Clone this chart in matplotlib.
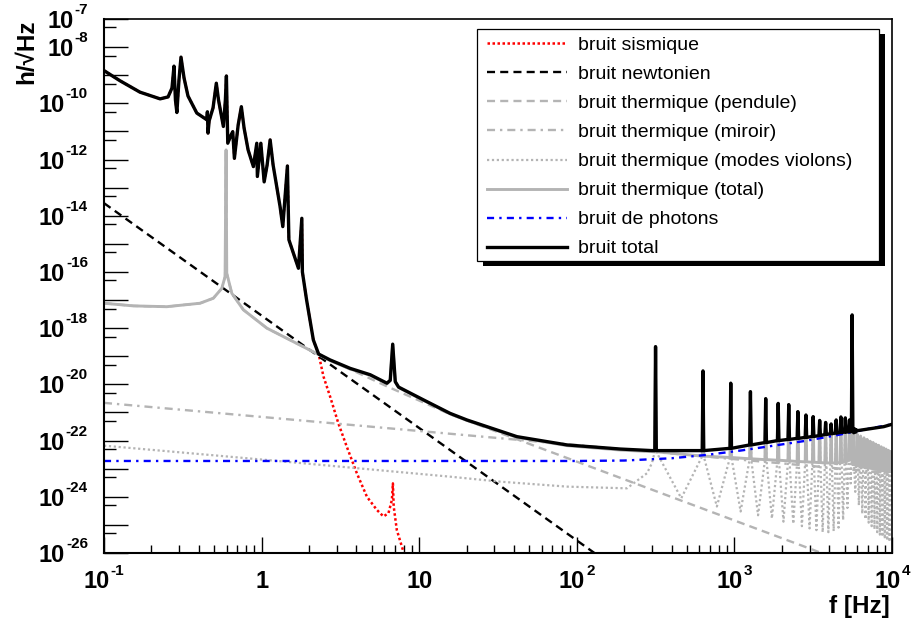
import matplotlib
matplotlib.use("Agg")
import matplotlib.pyplot as plt
import numpy as np
from matplotlib.ticker import FixedLocator, NullFormatter
from matplotlib.patches import Rectangle
from matplotlib.lines import Line2D

plt.rcParams['font.family'] = ['Liberation Sans', 'DejaVu Sans']

# ---- values (f in Hz, h in 1/sqrt(Hz)) ----

# low frequency part of the total noise (seismic dominated, same as seismic curve)
low_f = [0.1, 0.126, 0.169, 0.227, 0.255, 0.270, 0.278, 0.284, 0.290, 0.299,
         0.308, 0.322, 0.341, 0.388, 0.449, 0.453, 0.457, 0.465, 0.492, 0.516,
         0.533, 0.572, 0.589, 0.598, 0.610, 0.640, 0.656, 0.672, 0.710, 0.744,
         0.774, 0.821, 0.887, 0.932, 0.940, 0.989, 1.038, 1.084, 1.133, 1.183,
         1.31, 1.363, 1.458, 1.49, 1.713, 1.80, 1.815, 1.93, 2.13, 2.30]
low_h = [1.46e-9, 6.4e-10, 2.5e-10, 1.44e-10, 1.69e-10, 3.5e-10, 2.1e-9, 1.3e-10, 4.7e-11, 6.8e-10,
         4.4e-9, 8.0e-10, 1.83e-10, 4.5e-11, 2.6e-11, 5.0e-11, 8.7e-12, 2.4e-11, 6.9e-11, 5.2e-10,
         1.3e-10, 1.5e-11, 1.3e-10, 9.4e-10, 3.8e-12, 7.5e-12, 9.8e-12, 1.1e-12, 1.7e-11, 7.6e-11,
         1.33e-11, 2.2e-12, 5.6e-13, 3.8e-12, 2.5e-13, 3.8e-12, 1.6e-13, 6.4e-13, 5.0e-12, 6.4e-13,
         2.1e-14, 4.1e-15, 5.9e-13, 1.4e-15, 1.35e-16, 8.1e-15, 1.0e-16, 1.0e-17, 3.8e-19, 1.2e-19]

# total noise between the seismic wall and the violin modes
mid_f = [2.72, 3.65, 4.89, 6.24, 6.55, 6.79, 7.05, 7.40, 10.65, 15.7, 20.1, 41.7, 86.7, 189, 300]
mid_h = [7.4e-20, 3.7e-20, 2.2e-20, 1.1e-20, 1.4e-20, 2.7e-19, 1.25e-20, 8.0e-21, 2.8e-21,
         9.3e-22, 5.4e-22, 1.38e-22, 7.0e-23, 5.0e-23, 4.4e-23]

# total noise after the 5.6 kHz mirror resonance
tail_f = [5650, 5720, 5800, 5880, 5950, 6012, 8870, 10000]
tail_h = [2.7e-22, 1.9e-22, 2.6e-22, 2.0e-22, 2.4e-22, 2.25e-22, 3.13e-22, 3.8e-22]

# violin modes (and the 5585 Hz mirror mode)
modes = [316, 632, 948, 1264, 1580, 1896, 2212, 2528, 2844, 3160, 3476, 3792, 4108, 4424,
         4740, 5056, 5372, 5585, 5688, 6004, 6320, 6636, 6952, 7268, 7584, 7900, 8216, 8532,
         8848, 9164, 9480, 9796]
total_peak = [2.2e-19, 3.0e-20, 1.1e-20, 5.5e-21, 3.1e-21, 2.1e-21, 1.9e-21, 1.07e-21, 8.1e-22,
              7.1e-22, 5.2e-22, 4.4e-22, 3.9e-22, 5.4e-22, 6.9e-22, 6.4e-22, 5.4e-22, 2.95e-18]
total_base = [4.4e-23, 4.4e-23, 5.3e-23, 7.0e-23, 8.5e-23, 1.0e-22, 1.1e-22, 1.2e-22, 1.3e-22,
              1.4e-22, 1.5e-22, 1.65e-22, 1.75e-22, 1.85e-22, 1.95e-22, 2.0e-22, 2.05e-22, 2.1e-22]
thermal_peak = [2.2e-19, 3.0e-20, 1.1e-20, 5.5e-21, 3.1e-21, 2.1e-21, 1.9e-21, 1.07e-21, 8.1e-22,
                7.1e-22, 5.2e-22, 4.4e-22, 3.9e-22, 5.4e-22, 6.9e-22, 6.4e-22, 5.4e-22, 2.95e-18,
                2.0e-22, 1.7e-22, 1.45e-22, 1.25e-22, 1.1e-22, 9.5e-23, 8.5e-23, 7.5e-23,
                6.8e-23, 6.0e-23, 5.5e-23, 5.0e-23, 4.5e-23, 4.1e-23]
thermal_base = [4.0e-23, 2.8e-23, 2.5e-23, 2.25e-23, 2.1e-23, 2.0e-23, 1.9e-23, 1.8e-23, 1.75e-23,
                1.7e-23, 1.65e-23, 1.6e-23, 1.6e-23, 1.6e-23, 1.65e-23, 1.75e-23, 2.0e-23, 2.5e-23,
                1.4e-23, 1.3e-23, 1.2e-23, 1.15e-23, 1.1e-23, 1.05e-23, 1.0e-23, 9.5e-24,
                9.2e-24, 8.9e-24, 8.6e-24, 8.3e-24, 8.0e-24, 7.8e-24]
violin_dip_f = [460, 774, 1095, 1413, 1730, 2048, 2364, 2681, 2998, 3314, 3631, 3947, 4263, 4579,
                4895, 5212, 5477, 5636, 5846, 6162, 6478, 6794, 7110, 7426, 7742, 8058, 8374,
                8690, 9006, 9322, 9638, 10000]
violin_dip = [8.9e-25, 4.5e-25, 3.0e-25, 2.2e-25, 1.7e-25, 1.3e-25, 1.1e-25, 9e-26, 7.5e-26,
              6.5e-26, 5.5e-26, 5.5e-26, 6e-26, 8e-26, 1.5e-25, 4e-25, 3e-24, 1.5e-23, 1.5e-24,
              5e-25, 2.5e-25, 1.6e-25, 1.2e-25, 9e-26, 7e-26, 5.5e-26, 4.5e-26, 3.8e-26,
              3.2e-26, 2.8e-26, 2.5e-26, 5e-25]

# seismic noise once it leaves the total curve
seis_tail_f = [2.47, 2.72, 3.07, 3.47, 4.02, 4.66, 5.39, 5.93, 6.38, 6.71, 6.81, 6.89, 7.21, 7.95, 8.8]
seis_tail_h = [1.9e-20, 3.7e-21, 4.1e-22, 6.1e-23, 6.9e-24, 1.0e-24, 3.4e-25, 2.0e-25, 2.6e-25,
               7.7e-25, 3.0e-24, 4.5e-25, 6.6e-26, 1.1e-26, 1.7e-27]

# thermal noise (pendulum resonance at 0.6 Hz)
therm_low_f = [0.1, 0.1535, 0.25, 0.407, 0.494, 0.559, 0.5865, 0.595, 0.601, 0.647, 0.766,
               1.08, 1.59, 2.30]
therm_low_h = [7.7e-18, 6.2e-18, 5.8e-18, 7.7e-18, 1.16e-17, 2.6e-17, 6.8e-17, 2.2e-12, 9.0e-17,
               1.74e-17, 4.5e-18, 1.0e-18, 3.3e-19, 1.15e-19]
therm_mid_f = [2.72, 3.65, 4.89, 6.24, 6.55, 6.79, 7.05, 7.40, 10.65, 15.7, 20.1, 41.7, 86.7, 189, 279, 10000]
therm_mid_h = [7.0e-20, 3.5e-20, 2.1e-20, 1.05e-20, 1.35e-20, 2.6e-19, 1.2e-20, 7.7e-21, 2.7e-21,
               8.9e-22, 5.2e-22, 1.3e-22, 6.6e-23, 4.6e-23, 4.1e-23, 7.5e-24]

pend_tail_f = [6.24, 15.7, 45.9, 3177, 4500]
pend_tail_h = [8.5e-21, 8.7e-22, 9.1e-23, 1.28e-26, 6.0e-27]

mirror_f = [0.1, 10000]
mirror_h = [2.2e-21, 6.9e-24]

violin_low_f = [0.1, 1.08, 15.7, 32.7, 86.7, 208, 279, 300]
violin_low_h = [6.6e-23, 2.04e-23, 5.2e-24, 3.45e-24, 2.3e-24, 2.0e-24, 6.9e-24, 1.6e-23]

newton_f = [0.1, 200]
newton_h = [2.8e-14, 1.75e-27]

photon_f = [0.1, 100, 200, 400, 670, 1090, 1778, 2897, 4713, 7000, 10000]
photon_h = [1.88e-23, 1.88e-23, 1.95e-23, 2.35e-23, 3.1e-23, 4.4e-23, 6.6e-23, 1.0e-22,
            1.65e-22, 2.6e-22, 3.8e-22]

labels = ['bruit sismique', 'bruit newtonien', 'bruit thermique (pendule)',
          'bruit thermique (miroir)', 'bruit thermique (modes violons)',
          'bruit thermique (total)', 'bruit de photons', 'bruit total']


def spiky(f, h, peaks, bases, extra=(), width=0.011):
    '''merge a curve with narrow resonance spikes and sort by frequency'''
    pts = list(zip(f, h)) + list(extra)
    for m, p, b in zip(modes, peaks, bases):
        pts += [(m * (1 - width), b), (m, p), (m * (1 + width), b)]
    pts.sort()
    return np.array(pts).T


total = spiky(low_f + mid_f + tail_f, low_h + mid_h + tail_h, total_peak, total_base)
thermal = spiky(therm_low_f + therm_mid_f, therm_low_h + therm_mid_h, thermal_peak, thermal_base)
violin = spiky(violin_low_f, violin_low_h, thermal_peak, thermal_base,
               extra=zip(violin_dip_f, violin_dip))
seismic = (low_f + seis_tail_f, low_h + seis_tail_h)
pendulum = (therm_low_f + pend_tail_f, therm_low_h + pend_tail_h)

GREY = '#b4b4b4'
styles = [
    dict(color='red', lw=1.8, ls=(0, (1, 1))),
    dict(color='black', lw=1.7, ls=(0, (3.4, 2.2))),
    dict(color=GREY, lw=1.7, ls=(0, (3.4, 2.2))),
    dict(color=GREY, lw=1.7, ls=(0, (3.4, 2.1, 1, 2.1))),
    dict(color=GREY, lw=1.6, ls=(0, (1, 1.2))),
    dict(color=GREY, lw=2.1, ls='-'),
    dict(color='blue', lw=1.7, ls=(0, (3.0, 2.2, 1, 2.2))),
    dict(color='black', lw=2.4, ls='-'),
]
curves = [seismic, (newton_f, newton_h), pendulum, (mirror_f, mirror_h), violin,
          thermal, (photon_f, photon_h), total]

W, H = 914, 623
fig = plt.figure(figsize=(W / 100, H / 100), dpi=100)
ax = fig.add_axes([104 / W, 70 / H, 788 / W, 534 / H])

for (cf, ch), st in zip(curves, styles):
    ax.plot(cf, ch, **st)

ax.set_xscale('log')
ax.set_yscale('log')
ax.set_xlim(0.1, 1e4)
ax.set_ylim(1e-26, 1e-7)

ax.xaxis.set_major_locator(FixedLocator([10.0 ** k for k in range(-1, 5)]))
ax.xaxis.set_minor_locator(FixedLocator([m * 10.0 ** k for k in range(-1, 4) for m in range(2, 10)]))
ax.yaxis.set_major_locator(FixedLocator([10.0 ** k for k in range(-26, -6)]))
ax.yaxis.set_minor_locator(FixedLocator([5 * 10.0 ** k for k in range(-27, -7)]))
for axis in (ax.xaxis, ax.yaxis):
    axis.set_major_formatter(NullFormatter())
    axis.set_minor_formatter(NullFormatter())
ax.tick_params(which='both', direction='in', top=False, right=False, width=1.0)
ax.tick_params(axis='x', which='major', length=11.5)
ax.tick_params(axis='x', which='minor', length=5.5)
ax.tick_params(axis='y', which='major', length=17)
ax.tick_params(axis='y', which='minor', length=8.6)
for side in ['left', 'bottom']:
    ax.spines[side].set_linewidth(1.5)
for side in ['top', 'right']:
    ax.spines[side].set_linewidth(1.2)

# ROOT style tick labels: big bold "10" with a small exponent
renderer = fig.canvas.get_renderer()


def sci_label(xy, coords, exp, dy10, dyexp, right=None):
    kw = dict(xycoords=coords, textcoords='offset pixels', fontweight='bold',
              ha='left', va='baseline', annotation_clip=False)
    t10 = ax.annotate('10', xy, xytext=(0, dy10), fontsize=17, **kw)
    te = ax.annotate(exp, xy, xytext=(0, dyexp), fontsize=11, **kw)
    w10 = t10.get_window_extent(renderer).width
    we = te.get_window_extent(renderer).width
    gap = 1
    if right is None:
        x0 = -(w10 + gap + we) / 2
    else:
        x0 = -right - we - gap - w10
    t10.xyann = (x0, dy10)
    te.xyann = (x0 + w10 + gap, dyexp)


for k in range(-1, 5):
    if k in (0, 1):
        ax.annotate(str(10 ** k), (10.0 ** k, 0), xycoords=('data', 'axes fraction'),
                    xytext=(0, -35), textcoords='offset pixels', fontsize=17,
                    fontweight='bold', ha='center', va='baseline', annotation_clip=False)
    else:
        sci_label((10.0 ** k, 0), ('data', 'axes fraction'), str(k), -35, -22)

for k in list(range(-26, -7, 2)) + [-7]:
    sci_label((0, 10.0 ** k), ('axes fraction', 'data'), str(k), -9, 5, right=16)

fig.text(890 / W, 1 - 612.5 / H, 'f [Hz]', ha='right', va='baseline',
         fontsize=17.5, fontweight='bold')
fig.text(33 / W, 1 - 20 / H, 'h/\u221aHz', rotation=90, rotation_mode='anchor',
         ha='right', va='baseline', fontsize=17.5, fontweight='bold')

# legend box with a black drop shadow
bx0, by0, bx1, by1 = 477, 29, 879, 261
fig.add_artist(Rectangle(((bx0 + 6) / W, 1 - (by1 + 5) / H), (bx1 - bx0) / W, (by1 - by0) / H,
                         transform=fig.transFigure, fc='black', ec='none', zorder=5))
fig.add_artist(Rectangle((bx0 / W, 1 - by1 / H), (bx1 - bx0) / W, (by1 - by0) / H,
                         transform=fig.transFigure, fc='white', ec='black', lw=0.9, zorder=6))
for i, (lab, st) in enumerate(zip(labels, styles)):
    yrow = 43.3 + 29.05 * i
    fig.add_artist(Line2D([487 / W, 567 / W], [1 - yrow / H, 1 - yrow / H],
                          transform=fig.transFigure, zorder=7, **st))
    fig.text(578 / W, 1 - (yrow + 6.7) / H, lab, fontsize=14, ha='left', va='baseline', zorder=7)

fig.savefig('out.png', dpi=100)
